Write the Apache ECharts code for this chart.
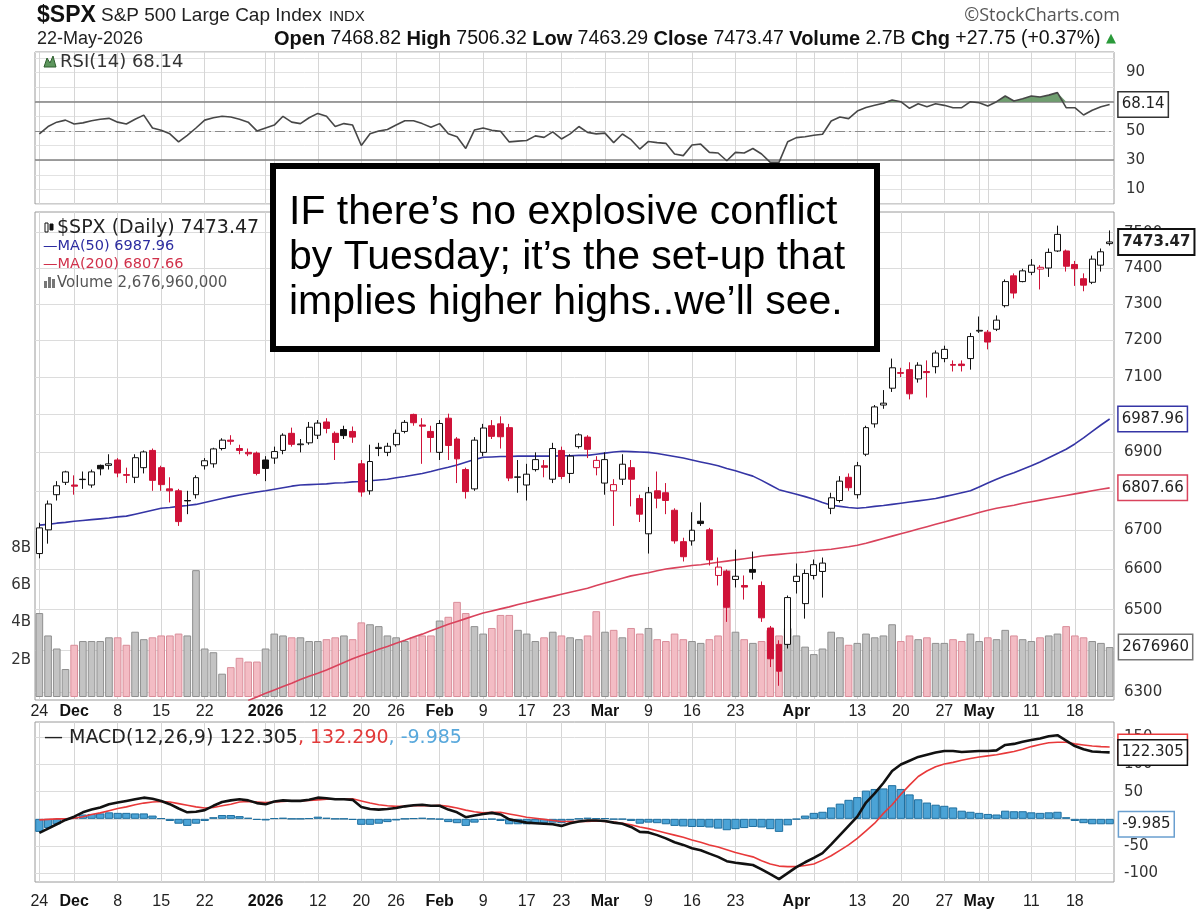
<!DOCTYPE html>
<html>
<head>
<meta charset="utf-8">
<title>$SPX S&amp;P 500 Large Cap Index</title>
<script src="https://cdn.jsdelivr.net/npm/echarts@6/dist/echarts.min.js"></script>
<style>
  html, body { margin: 0; padding: 0; background: #fff; }
  #chart { width: 1200px; height: 923px; }
</style>
</head>
<body>
<div id="chart"></div>
<script>
// trading days on the chart
const dates = [
  '2025-11-24','2025-11-25','2025-11-26','2025-11-28',
  '2025-12-01','2025-12-02','2025-12-03','2025-12-04','2025-12-05',
  '2025-12-08','2025-12-09','2025-12-10','2025-12-11','2025-12-12',
  '2025-12-15','2025-12-16','2025-12-17','2025-12-18','2025-12-19',
  '2025-12-22','2025-12-23','2025-12-24','2025-12-26',
  '2025-12-29','2025-12-30','2025-12-31','2026-01-02',
  '2026-01-05','2026-01-06','2026-01-07','2026-01-08','2026-01-09',
  '2026-01-12','2026-01-13','2026-01-14','2026-01-15','2026-01-16',
  '2026-01-20','2026-01-21','2026-01-22','2026-01-23',
  '2026-01-26','2026-01-27','2026-01-28','2026-01-29','2026-01-30',
  '2026-02-02','2026-02-03','2026-02-04','2026-02-05','2026-02-06',
  '2026-02-09','2026-02-10','2026-02-11','2026-02-12','2026-02-13',
  '2026-02-17','2026-02-18','2026-02-19','2026-02-20',
  '2026-02-23','2026-02-24','2026-02-25','2026-02-26','2026-02-27',
  '2026-03-02','2026-03-03','2026-03-04','2026-03-05','2026-03-06',
  '2026-03-09','2026-03-10','2026-03-11','2026-03-12','2026-03-13',
  '2026-03-16','2026-03-17','2026-03-18','2026-03-19','2026-03-20',
  '2026-03-23','2026-03-24','2026-03-25','2026-03-26','2026-03-27',
  '2026-03-30','2026-03-31','2026-04-01','2026-04-02',
  '2026-04-06','2026-04-07','2026-04-08','2026-04-09','2026-04-10',
  '2026-04-13','2026-04-14','2026-04-15','2026-04-16','2026-04-17',
  '2026-04-20','2026-04-21','2026-04-22','2026-04-23','2026-04-24',
  '2026-04-27','2026-04-28','2026-04-29','2026-04-30','2026-05-01',
  '2026-05-04','2026-05-05','2026-05-06','2026-05-07','2026-05-08',
  '2026-05-11','2026-05-12','2026-05-13','2026-05-14','2026-05-15',
  '2026-05-18','2026-05-19','2026-05-20','2026-05-21','2026-05-22'
];

const opens = [
  6640,6700,6790,6822,6815,6830,6815,6866,6866,6880,
  6842,6835,6860,6905,6860,6805,6800,6775,6790,6865,
  6870,6910,6932,6910,6900,6898,6880,6885,6905,6950,
  6920,6925,6945,6980,6950,6960,6955,6870,6800,6910,
  6900,6920,6955,7000,6972,6955,6900,6990,6935,6855,
  6805,6900,6970,6975,6965,6835,6815,6855,6865,6830,
  6905,6845,6915,6940,6860,6820,6800,6830,6860,6780,
  6690,6800,6795,6750,6670,6672,6722,6700,6585,6595,
  6575,6560,6600,6560,6455,6415,6415,6570,6515,6585,
  6595,6755,6775,6835,6790,6895,6975,7025,7070,7112,
  7120,7095,7115,7128,7150,7134,7135,7150,7225,7222,
  7230,7295,7378,7362,7388,7397,7400,7448,7448,7410,
  7370,7360,7408,7468.82
];
const closes = [
  6705,6766,6813,6849,6812,6829,6849,6857,6870,6846,
  6840,6886,6901,6827,6816,6800,6721,6774,6834,6878,
  6909,6932,6929,6905,6896,6845,6858,6902,6945,6921,
  6922,6966,6977,6963,6926,6944,6940,6797,6876,6913,
  6916,6950,6979,6978,6969,6939,6976,6918,6883,6798,
  6932,6964,6942,6941,6833,6836,6843,6881,6861,6910,
  6837,6890,6946,6908,6879,6881,6816,6869,6830,6740,
  6795,6781,6775,6672,6632,6699,6716,6624,6606,6506,
  6583,6556,6593,6480,6380,6350,6530,6583,6590,6612,
  6616,6782,6825,6808,6865,6965,7020,7030,7125,7110,
  7055,7132,7112,7165,7175,7132,7131,7210,7227,7195,
  7255,7362,7330,7392,7408,7402,7444,7495,7405,7398,
  7352,7425,7445.72,7473.47
];
const lows = [
  6628,6665,6775,6815,6790,6805,6808,6840,6855,6835,
  6820,6820,6845,6800,6800,6770,6710,6740,6780,6855,
  6860,6905,6920,6895,6890,6840,6825,6870,6895,6915,
  6900,6920,6935,6950,6880,6935,6925,6785,6790,6890,
  6890,6915,6950,6970,6870,6900,6880,6880,6820,6780,
  6800,6890,6935,6910,6825,6795,6775,6850,6835,6820,
  6830,6820,6910,6885,6840,6790,6710,6815,6760,6720,
  6640,6755,6740,6665,6620,6660,6710,6610,6560,6470,
  6555,6525,6575,6470,6360,6315,6405,6540,6478,6575,
  6530,6740,6770,6800,6780,6890,6965,7015,7060,7100,
  7040,7085,7045,7110,7140,7115,7115,7120,7220,7175,
  7225,7290,7315,7360,7380,7340,7375,7445,7390,7350,
  7335,7355,7390,7463.29
];
const highs = [
  6718,6775,6825,6852,6840,6850,6855,6868,6895,6885,
  6860,6895,6905,6910,6865,6835,6805,6800,6840,6885,
  6912,6937,6945,6920,6910,6902,6890,6915,6950,6965,
  6935,6980,6985,6990,6955,6970,6968,6880,6920,6925,
  6925,6960,6985,7002,6990,6970,6985,7002,6940,6860,
  6940,6975,6985,6995,6975,6880,6870,6900,6880,6925,
  6915,6895,6950,6945,6890,6900,6830,6895,6880,6790,
  6810,6850,6820,6755,6680,6745,6770,6705,6630,6600,
  6650,6585,6645,6570,6460,6425,6535,6615,6600,6625,
  6630,6795,6838,6845,6875,6970,7025,7065,7150,7125,
  7140,7140,7145,7172,7185,7145,7145,7220,7265,7228,
  7268,7368,7385,7398,7425,7408,7455,7520,7452,7420,
  7385,7435,7455,7506.32
];
// volume in billions of shares
const volumes = [
  4.5,3.3,2.6,1.5,2.8,3.0,3.0,3.0,3.2,3.2,
  2.8,3.5,3.1,3.2,3.3,3.3,3.4,3.3,6.8,2.6,
  2.4,1.25,1.6,2.1,1.9,1.9,2.6,3.4,3.3,3.2,
  3.2,3.0,3.0,3.1,3.2,3.3,3.1,4.0,3.9,3.8,
  3.3,3.2,3.0,3.2,3.3,3.3,4.1,4.3,5.1,4.5,
  3.8,3.4,3.7,4.4,4.4,3.6,3.4,3.0,3.2,3.5,
  3.3,3.2,3.1,3.3,4.6,3.5,3.6,3.2,3.7,3.4,
  3.7,3.1,3.0,3.4,3.1,3.0,2.9,3.1,3.3,6.8,
  3.5,3.1,2.9,3.0,3.6,3.3,3.7,3.3,2.7,2.3,
  2.6,3.5,3.2,2.8,2.9,3.4,3.2,3.3,3.9,3.0,
  3.3,3.1,3.2,2.9,2.9,3.1,3.0,3.4,3.0,3.2,
  3.1,3.6,3.3,3.1,3.0,3.2,3.3,3.4,3.8,3.3,
  3.2,3.0,2.9,2.67696
];
const ma50 = [
  6712,6714,6717,6719,6722,6724,6726,6728,6730,6733,
  6735,6740,6745,6750,6755,6757,6760,6762,6765,6770,
  6775,6780,6785,6789,6793,6797,6800,6804,6808,6812,
  6815,6816,6817,6818,6820,6821,6823,6824,6826,6828,
  6830,6834,6837,6841,6845,6850,6856,6861,6867,6874,
  6881,6887,6888,6889,6889,6890,6890,6890,6890,6890,
  6891,6891,6892,6892,6895,6898,6901,6903,6902,6901,
  6900,6897,6893,6889,6885,6880,6875,6870,6865,6858,
  6852,6845,6838,6827,6815,6803,6797,6791,6785,6778,
  6770,6763,6760,6757,6755,6757,6760,6762,6765,6768,
  6771,6774,6777,6780,6785,6790,6795,6800,6810,6820,
  6830,6839,6847,6856,6865,6875,6886,6897,6908,6922,
  6938,6955,6972,6987.96
];
const ma200 = [
  null,null,null,null,null,null,null,null,null,null,
  null,null,null,null,null,null,null,null,null,null,
  null,null,null,null,6280,6288,6297,6305,6313,6321,
  6330,6338,6345,6353,6362,6371,6380,6388,6395,6403,
  6410,6418,6425,6433,6440,6448,6456,6464,6471,6478,
  6485,6492,6497,6502,6507,6513,6518,6523,6528,6533,
  6538,6543,6548,6553,6560,6566,6572,6578,6584,6588,
  6592,6597,6601,6604,6607,6610,6612,6615,6618,6621,
  6624,6627,6630,6634,6636,6638,6640,6642,6644,6647,
  6649,6651,6654,6657,6661,6666,6672,6678,6684,6690,
  6696,6702,6708,6714,6720,6726,6732,6738,6744,6750,
  6755,6759,6763,6768,6772,6776,6780,6784,6788,6792,
  6796,6800,6804,6807.66
];
const rsi = [
  48,53,56,57.4,54.7,55.5,57,58,58.6,56,
  54.7,58,60.8,52,50.4,48,42.5,47,52,57.4,
  59,60,59.5,58,56,50,52,54,60,56,
  55,59,62,60,53,55,54,40,48,50,
  51,54,57,57,55,52.5,55,48,46,38,
  50.6,52,50.4,49.8,42.5,43,43.4,46.6,45.6,49.4,
  44.5,48,53,49,48,48.5,42,47.9,44,37.6,
  42.8,42,41.5,34.2,33.1,40.4,41,35.3,34.9,29.6,
  35.3,34.9,38,34.2,28.5,28.5,42.6,45.4,46,47,
  47.7,56.8,59.5,58.4,63.6,66,67.5,69,71.2,70,
  65.5,68.6,66.6,68.6,67.5,65.9,65.9,70,69.3,67,
  70,73.9,70.5,72,73.9,73.2,74.5,76.2,65.9,65.9,
  60.9,64.1,66.5,68.14
];
const macd = [
  -26,-18,-10,-2,4,12,17,21,27,30,
  33,36,39,37,33,27,19,12,13,16,
  24,31,34,36,34,29,27,32,34,33,
  33,35,39,38,36,36,35,22,18,17,
  18,20,23,25,26,24,24,17,12,3,
  6,9,11,8,-1,-4,-7,-8,-9,-10,
  -13,-8,-5,-3,-3,-4,-7,-9,-15,-24,
  -25,-30,-36,-43,-48,-54,-58,-64,-70,-78,
  -81,-83,-85,-93,-102,-111,-100,-89,-80,-72,
  -63,-47,-30,-13,4,30,47,66,88,100,
  107,114,118,122,125,125,123,124,125,125,
  126,136,138,142,145,148,152,154,144,134,
  128,124,123,122.305
];
const signal = [
  -2,-1,0,0,1,4,8,11,15,19,
  22,26,29,31,32,31,28,25,22,20,
  21,24,27,31,32,31,30,31,32,33,
  33,34,35,36,36,36,37,33,29,26,
  24,23,23,24,24,24,25,23,20,16,
  13,11,12,12,9,6,3,1,-1,-3,
  -5,-5,-5,-5,-4,-5,-6,-8,-11,-15,
  -18,-22,-26,-30,-34,-39,-43,-48,-52,-57,
  -62,-66,-70,-77,-83,-87,-88,-88,-86,-83,
  -76,-68,-58,-48,-36,-22,-8,10,26,45,
  62,78,88,96,101,104,108,111,114,116,
  118,121,124,128,133,137,140,141,141,138,
  136,134,133,132.29
];
const hist = [
  -24,-17,-10,-2,3,8,9,10,12,11,
  11,10,10,6,1,-4,-9,-13,-9,-4,
  3,7,7,5,2,-2,-3,1,2,0,
  0,1,4,2,0,0,-2,-11,-11,-9,
  -6,-3,0,1,2,0,-1,-6,-8,-13,
  -7,-2,-1,-4,-10,-10,-10,-9,-8,-7,
  -8,-3,0,2,1,1,-1,-1,-4,-9,
  -7,-8,-10,-13,-14,-15,-15,-16,-18,-21,
  -19,-17,-15,-16,-19,-24,-12,-1,6,11,
  13,21,28,35,40,52,55,56,62,55,
  45,36,30,26,24,21,15,13,11,9,
  8,15,14,14,12,11,12,13,3,-4,
  -8,-10,-10,-9.985
];

// axis ticks
const tickDates = ['2025-11-24','2025-12-01','2025-12-08','2025-12-15','2025-12-22','2026-01-02',
  '2026-01-12','2026-01-20','2026-01-26','2026-02-02','2026-02-09','2026-02-17','2026-02-23',
  '2026-03-02','2026-03-09','2026-03-16','2026-03-23','2026-04-01','2026-04-13','2026-04-20',
  '2026-04-27','2026-05-01','2026-05-11','2026-05-18'];
const tickLabels = ['24','Dec','8','15','22','2026','12','20','26','Feb','9','17','23',
  'Mar','9','16','23','Apr','13','20','27','May','11','18'];
const boldLabels = ['Dec','2026','Feb','Mar','Apr','May'];
const extraGridDates = ['2026-01-05','2026-04-06','2026-05-04'];
const priceTicks = [6300, 6400, 6500, 6600, 6700, 6800, 6900, 7000, 7100, 7200, 7300, 7400, 7500];
const rsiTicks = [10, 30, 50, 70, 90];
const volTicks = [2, 4, 6, 8];
const macdTicks = [-100, -50, 50, 100, 150];

const last = dates.length - 1;
const RED = '#cf1238';
const labelFont = 'DejaVu Sans';

function upDay(i) {
  const prev = i > 0 ? closes[i - 1] : opens[i];
  return closes[i] >= prev;
}

const candleData = closes.map((c, i) => {
  const edge = upDay(i) ? '#111' : RED;
  const fill = c > opens[i] ? '#fff' : edge;
  return {
    value: [opens[i], c, lows[i], highs[i]],
    itemStyle: { color: fill, color0: fill, borderColor: edge, borderColor0: edge }
  };
});

const volumeData = volumes.map((v, i) => ({
  value: v,
  itemStyle: upDay(i)
    ? { color: '#c3c3c3', borderColor: '#8f8f8f', borderWidth: 1 }
    : { color: '#f3bcc4', borderColor: '#d98d99', borderWidth: 1 }
}));

function tag(border, bold) {
  return {
    show: true, distance: 9, fontFamily: labelFont, fontSize: 15,
    fontWeight: bold ? 'bold' : 'normal', color: '#222',
    backgroundColor: '#fff', borderColor: border, borderWidth: bold ? 2 : 1.5,
    padding: [5, 3, 4, 3]
  };
}
function lastVal(p) {
  return Array.isArray(p.value) ? p.value[p.value.length - 1] : p.value;
}

function makeXAxis(gridIndex, showLabels, margin) {
  return {
    type: 'category', gridIndex: gridIndex, data: dates, boundaryGap: true,
    axisLine: { show: false }, axisTick: { show: false },
    axisLabel: {
      show: showLabels, margin: margin, hideOverlap: false,
      interval: (i, v) => tickDates.includes(v),
      formatter: v => {
        const t = tickLabels[tickDates.indexOf(v)];
        return boldLabels.includes(t) ? '{b|' + t + '}' : t;
      },
      fontFamily: 'Liberation Sans', fontSize: 16, color: '#222',
      rich: { b: { fontFamily: 'Liberation Sans', fontSize: 16, fontWeight: 'bold', color: '#111' } }
    },
    splitLine: {
      show: true, alignWithLabel: true,
      interval: (i, v) => tickDates.includes(v) || extraGridDates.includes(v),
      lineStyle: { color: '#d6d6d6', width: 1 }
    }
  };
}

const gridBase = { left: 35, right: 86, show: true, borderColor: '#9a9a9a', borderWidth: 1,
  backgroundColor: 'transparent', containLabel: false, outerBoundsMode: 'none' };

const chart = echarts.init(document.getElementById('chart'));

const chg = closes[last] - closes[last - 1];
const quote = '{b|Open} ' + opens[last].toFixed(2) + ' {b|High} ' + highs[last].toFixed(2) +
  ' {b|Low} ' + lows[last].toFixed(2) + ' {b|Close} ' + closes[last].toFixed(2) +
  ' {b|Volume} 2.7B {b|Chg} +' + chg.toFixed(2) + ' (+' +
  (chg / closes[last - 1] * 100).toFixed(2) + '%) {g|\u25b2}';

function txt(text, x, y, font, fill, align) {
  return { type: 'text', x: x, y: y, silent: true, z: 50,
    style: { text: text, font: font, fill: fill, textAlign: align || 'left', textVerticalAlign: 'middle' } };
}

const graphics = [
  txt('$SPX', 37, 16, 'bold 23px "Liberation Sans"', '#111'),
  txt('S&P 500 Large Cap Index', 101, 16, '19px "Liberation Sans"', '#222'),
  txt('INDX', 329, 17, '15px "Liberation Sans"', '#222'),
  txt('\u00a9StockCharts.com', 1120, 16, '18px "Open Sans"', '#555', 'right'),
  txt('22-May-2026', 37, 39, '18px "Liberation Sans"', '#222'),
  { type: 'text', x: 274, y: 39, silent: true, z: 50,
    style: {
      text: quote, font: '19.5px "Liberation Sans"', fill: '#111', textVerticalAlign: 'middle',
      rich: {
        b: { font: 'bold 20px "Liberation Sans"', fill: '#111' },
        g: { font: '13px "DejaVu Sans"', fill: '#2a9a3a' }
      }
    } }
];

// panel legends
graphics.push(
  { type: 'polygon', silent: true, z: 50,
    shape: { points: [[44, 67], [47, 58], [50, 63], [53, 56], [56, 67]] },
    style: { fill: '#5d965d', stroke: '#2f5f2f', lineWidth: 1 } },
  txt('RSI(14) ' + rsi[last].toFixed(2), 60, 62, '18px "DejaVu Sans"', '#333'),
  { type: 'rect', silent: true, z: 50, shape: { x: 45, y: 223, width: 3, height: 9 },
    style: { fill: '#fff', stroke: '#111', lineWidth: 1 } },
  { type: 'rect', silent: true, z: 50, shape: { x: 50, y: 224, width: 3, height: 6 },
    style: { fill: '#111', stroke: '#111', lineWidth: 1 } },
  txt('$SPX (Daily) ' + closes[last].toFixed(2), 57, 228, '19px "DejaVu Sans"', '#222'),
  txt('\u2014MA(50) ' + ma50[last].toFixed(2), 43, 246, '14.5px "DejaVu Sans"', '#2c2ca0'),
  txt('\u2014MA(200) ' + ma200[last].toFixed(2), 43, 264, '14.5px "DejaVu Sans"', '#d0304a'),
  { type: 'rect', silent: true, z: 50, shape: { x: 44, y: 281, width: 3, height: 7 }, style: { fill: '#777' } },
  { type: 'rect', silent: true, z: 50, shape: { x: 48, y: 277, width: 3, height: 11 }, style: { fill: '#777' } },
  { type: 'rect', silent: true, z: 50, shape: { x: 52, y: 279, width: 3, height: 9 }, style: { fill: '#777' } },
  txt('Volume 2,676,960,000', 57, 283, '15px "DejaVu Sans"', '#555'),
  { type: 'text', x: 44, y: 738, silent: true, z: 50,
    style: {
      text: '{k|\u2014 MACD(12,26,9) ' + macd[last].toFixed(3) + '}{r|, ' + signal[last].toFixed(3) +
        '}{u|, ' + hist[last].toFixed(3) + '}',
      font: '19px "DejaVu Sans"', textVerticalAlign: 'middle',
      rich: {
        k: { fill: '#222', font: '19px "DejaVu Sans"' },
        r: { fill: '#e23a3a', font: '19px "DejaVu Sans"' },
        u: { fill: '#58a8dc', font: '19px "DejaVu Sans"' }
      }
    } }
);

// annotation box
graphics.push(
  { type: 'rect', silent: true, z: 90, shape: { x: 273, y: 166, width: 604, height: 183 },
    style: { fill: '#fff', stroke: '#000', lineWidth: 6 } },
  { type: 'text', x: 289, y: 213, silent: true, z: 91,
    style: { text: 'IF there\u2019s no explosive conflict', font: '41px "Liberation Sans"', fill: '#000', textVerticalAlign: 'middle' } },
  { type: 'text', x: 289, y: 258, silent: true, z: 91,
    style: { text: 'by Tuesday; it\u2019s the set-up that', font: '41px "Liberation Sans"', fill: '#000', textVerticalAlign: 'middle' } },
  { type: 'text', x: 289, y: 303, silent: true, z: 91,
    style: { text: 'implies higher highs..we\u2019ll see.', font: '41px "Liberation Sans"', fill: '#000', textVerticalAlign: 'middle' } }
);

const rightLabel = { show: true, position: 'end', distance: 10, fontFamily: labelFont, fontSize: 15, color: '#333' };

const option = {
  animation: false,
  backgroundColor: '#fff',
  grid: [
    Object.assign({}, gridBase, { top: 52, height: 152 }),
    Object.assign({}, gridBase, { top: 212, height: 488 }),
    Object.assign({}, gridBase, { top: 212, height: 485, show: false }),
    Object.assign({}, gridBase, { top: 722, height: 160 })
  ],
  xAxis: [
    makeXAxis(0, false, 0),
    makeXAxis(1, true, 4),
    Object.assign(makeXAxis(2, false, 0), { splitLine: { show: false } }),
    makeXAxis(3, true, 12)
  ],
  yAxis: [
    { type: 'value', gridIndex: 0, position: 'right', min: 0, max: 104, interval: 10,
      axisLine: { show: false }, axisTick: { show: false },
      axisLabel: { margin: 12, fontFamily: labelFont, fontSize: 15, color: '#333',
        formatter: v => (rsiTicks.includes(v) ? String(v) : '') },
      splitLine: { show: true, lineStyle: { color: '#e2e2e2' } } },
    { type: 'log', gridIndex: 1, position: 'right', min: 6281, max: 7559,
      axisLine: { show: false }, axisTick: { show: false },
      axisLabel: { show: false }, splitLine: { show: false } },
    { type: 'value', gridIndex: 2, position: 'left', min: 0, max: 26, interval: 2,
      axisLine: { show: false }, axisTick: { show: false },
      axisLabel: { margin: 4, fontFamily: labelFont, fontSize: 15, color: '#333',
        formatter: v => (volTicks.includes(v) ? v + 'B' : '') },
      splitLine: { show: false } },
    { type: 'value', gridIndex: 3, position: 'right', min: -116.3, max: 178.3,
      axisLine: { show: false }, axisTick: { show: false },
      axisLabel: { show: false }, splitLine: { show: false } }
  ],
  graphic: graphics,
  series: [
    // RSI
    { type: 'line', name: 'rsiFill', xAxisIndex: 0, yAxisIndex: 0, z: 2,
      data: rsi.map(v => Math.max(v, 70)), symbol: 'none', silent: true,
      lineStyle: { width: 0 }, areaStyle: { origin: 70, color: '#5f935f', opacity: 0.9 } },
    { type: 'line', name: 'RSI', xAxisIndex: 0, yAxisIndex: 0, z: 3,
      data: rsi, symbol: 'none', lineStyle: { color: '#474747', width: 1.6 },
      endLabel: Object.assign(tag('#333', false), { formatter: p => lastVal(p).toFixed(2) }),
      markLine: { silent: true, z: 2, symbol: 'none', label: { show: false },
        data: [
          { yAxis: 70, lineStyle: { color: '#808080', width: 1.5, type: 'solid' } },
          { yAxis: 30, lineStyle: { color: '#808080', width: 1.5, type: 'solid' } },
          { yAxis: 50, lineStyle: { color: '#8a8a8a', width: 1.2, type: [10, 4, 2, 4] } }
        ] } },
    // price gridlines and labels
    { type: 'line', name: 'priceGrid', xAxisIndex: 1, yAxisIndex: 1, z: 0, data: [],
      markLine: { silent: true, z: 1, symbol: 'none', label: rightLabel,
        lineStyle: { color: '#dcdcdc', width: 1, type: 'solid' },
        data: priceTicks.map(v => ({ yAxis: v })) } },
    // volume
    { type: 'bar', name: 'Volume', xAxisIndex: 2, yAxisIndex: 2, z: 2,
      data: volumeData, barWidth: '88%',
      markPoint: { symbol: 'rect', symbolSize: 1, z: 6, itemStyle: { color: 'transparent' },
        label: Object.assign(tag('#777', false), { position: 'right',
          formatter: p => String(Math.round(p.value * 1e6)) }),
        data: [{ coord: [dates[last], volumes[last]], value: volumes[last] }] } },
    // moving averages
    { type: 'line', name: 'MA(200)', xAxisIndex: 1, yAxisIndex: 1, z: 3,
      data: ma200, symbol: 'none', lineStyle: { color: '#d9435c', width: 1.6 },
      endLabel: Object.assign(tag('#d9435c', false), { formatter: p => lastVal(p).toFixed(2) }) },
    { type: 'line', name: 'MA(50)', xAxisIndex: 1, yAxisIndex: 1, z: 3,
      data: ma50, symbol: 'none', lineStyle: { color: '#3535a5', width: 1.6 },
      endLabel: Object.assign(tag('#3535a5', false), { formatter: p => lastVal(p).toFixed(2) }) },
    // candles
    { type: 'candlestick', name: '$SPX', xAxisIndex: 1, yAxisIndex: 1, z: 4,
      data: candleData, barWidth: '74%', itemStyle: { borderWidth: 1 },
      markPoint: { symbol: 'rect', symbolSize: 1, z: 6, itemStyle: { color: 'transparent' },
        label: Object.assign(tag('#111', true), { position: 'right',
          formatter: p => p.value.toFixed(2) }),
        data: [{ coord: [dates[last], closes[last]], value: closes[last] }] } },
    // MACD gridlines and labels
    { type: 'line', name: 'macdGrid', xAxisIndex: 3, yAxisIndex: 3, z: 0, data: [],
      markLine: { silent: true, z: 1, symbol: 'none', label: rightLabel,
        lineStyle: { color: '#dcdcdc', width: 1, type: 'solid' },
        data: macdTicks.map(v => ({ yAxis: v })).concat([{ yAxis: 0, label: { show: false } }]) } },
    { type: 'bar', name: 'hist', xAxisIndex: 3, yAxisIndex: 3, z: 2,
      data: hist, barWidth: '96%',
      itemStyle: { color: '#4ba3d6', borderColor: '#1f6f9f', borderWidth: 1 },
      markPoint: { symbol: 'rect', symbolSize: 1, z: 6, itemStyle: { color: 'transparent' },
        label: Object.assign(tag('#6a9fcf', false), { position: 'right',
          formatter: p => p.value.toFixed(3) }),
        data: [{ coord: [dates[last], hist[last]], value: hist[last] }] } },
    { type: 'line', name: 'signal', xAxisIndex: 3, yAxisIndex: 3, z: 3,
      data: signal, symbol: 'none', lineStyle: { color: '#e8393a', width: 1.6 },
      endLabel: Object.assign(tag('#e8393a', false), { formatter: p => lastVal(p).toFixed(3) }) },
    { type: 'line', name: 'MACD', xAxisIndex: 3, yAxisIndex: 3, z: 4,
      data: macd, symbol: 'none', lineStyle: { color: '#111', width: 2.6 },
      endLabel: Object.assign(tag('#111', false), { formatter: p => lastVal(p).toFixed(3) }) }
  ]
};

chart.setOption(option);
</script>
</body>
</html>
